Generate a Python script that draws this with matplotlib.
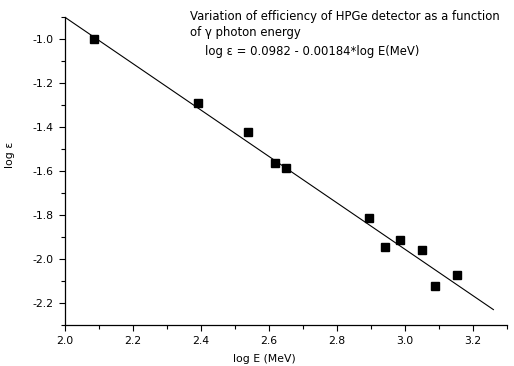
import matplotlib
matplotlib.use("Agg")
import matplotlib.pyplot as plt
from matplotlib.ticker import MultipleLocator

# Data
log_E = [2.086, 2.390, 2.539, 2.617, 2.651, 2.894, 2.942, 2.986, 3.049, 3.087, 3.153]
log_eff = [-1.000, -1.288, -1.423, -1.561, -1.584, -1.814, -1.945, -1.912, -1.961, -2.124, -2.071]
fit_x = [2.0, 3.26]
fit_y = [-0.90, -2.23]

title_text = "Variation of efficiency of HPGe detector as a function\nof \u03b3 photon energy"
eq_text = "log \u03b5 = 0.0982 - 0.00184*log E(MeV)"

plt.rcParams['font.family'] = ['DejaVu Sans']
plt.rcParams['font.size'] = 8

W, H = 514, 366
fig = plt.figure(figsize=(W / 100, H / 100), dpi=100)
ax = fig.add_axes([65 / W, 1 - 325 / H, (507 - 65) / W, (325 - 17.3) / H])

ax.plot(fit_x, fit_y, color='black', lw=0.8)
ax.plot(log_E, log_eff, linestyle='none', marker='s', markersize=5.5, color='black')

ax.set_xlim(2.0, 3.3)
ax.set_ylim(-2.3, -0.9)
ax.xaxis.set_minor_locator(MultipleLocator(0.1))
ax.yaxis.set_minor_locator(MultipleLocator(0.1))
ax.set_xticks([2.0, 2.2, 2.4, 2.6, 2.8, 3.0, 3.2])
ax.set_yticks([-2.2, -2.0, -1.8, -1.6, -1.4, -1.2, -1.0])
ax.xaxis.set_major_formatter(plt.FuncFormatter(lambda v, p: f"{v:.1f}"))
ax.yaxis.set_major_formatter(plt.FuncFormatter(lambda v, p: f"{v:.1f}"))

for s in ['top', 'right']:
    ax.spines[s].set_visible(False)
for s in ['left', 'bottom']:
    ax.spines[s].set_linewidth(0.9)

ax.tick_params(which='major', direction='out', length=4, width=0.8, labelsize=7.8, pad=4)
ax.tick_params(which='minor', direction='out', length=3, width=0.8)

ax.set_xlabel("log E (MeV)", fontsize=7.8)
ax.xaxis.set_label_coords((264 - 65) / (507 - 65), -(360 - 325) / (325 - 17.3) + 0.02)
ax.set_ylabel("log \u03b5", fontsize=7.8)
ax.yaxis.set_label_coords(-(65 - 15) / (507 - 65), (325 - 155) / (325 - 17.3))

fig.text(190 / W, 1 - 24.5 / H, title_text, fontsize=8.4, ha='left', va='center', linespacing=1.3)
fig.text(205 / W, 1 - 52 / H, eq_text, fontsize=8.4, ha='left', va='center')

fig.savefig("out.png", dpi=100)
